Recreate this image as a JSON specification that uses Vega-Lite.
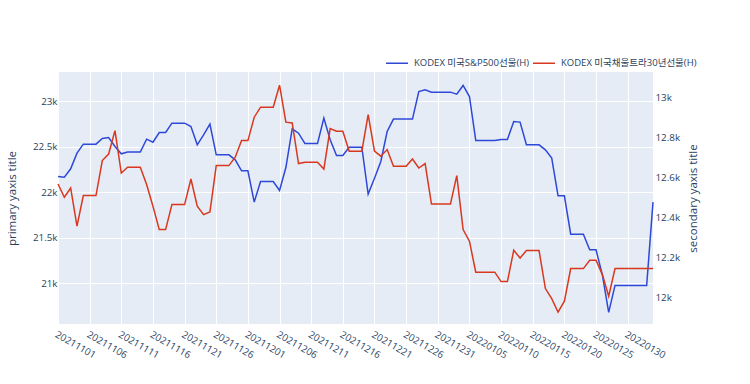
{
  "$schema": "https://vega.github.io/schema/vega-lite/v6.json",
  "width": 595,
  "height": 252,
  "autosize": {"type": "none"},
  "padding": {"left": 58, "top": 72, "right": 97, "bottom": 60},
  "background": "white",
  "config": {
    "font": "Open Sans, Noto Sans CJK KR",
    "view": {"fill": "#E5ECF6", "stroke": null},
    "axis": {
      "domain": false,
      "ticks": false,
      "gridColor": "#FFFFFF",
      "gridWidth": 1,
      "labelColor": "#2a3f5f",
      "labelFontSize": 9.8,
      "labelFont": "Open Sans, Noto Sans CJK KR",
      "titleColor": "#2a3f5f",
      "titleFont": "Open Sans, Noto Sans CJK KR"
    }
  },
  "data": {
    "values": [
      {"date": "2021-11-01", "sp": 22174, "ust": 12568},
      {"date": "2021-11-02", "sp": 22166, "ust": 12502},
      {"date": "2021-11-03", "sp": 22258, "ust": 12548},
      {"date": "2021-11-04", "sp": 22430, "ust": 12357},
      {"date": "2021-11-05", "sp": 22528, "ust": 12510},
      {"date": "2021-11-06", "sp": 22528, "ust": 12510},
      {"date": "2021-11-07", "sp": 22528, "ust": 12510},
      {"date": "2021-11-08", "sp": 22590, "ust": 12685},
      {"date": "2021-11-09", "sp": 22601, "ust": 12718},
      {"date": "2021-11-10", "sp": 22503, "ust": 12835},
      {"date": "2021-11-11", "sp": 22422, "ust": 12623},
      {"date": "2021-11-12", "sp": 22441, "ust": 12652},
      {"date": "2021-11-13", "sp": 22441, "ust": 12652},
      {"date": "2021-11-14", "sp": 22441, "ust": 12652},
      {"date": "2021-11-15", "sp": 22583, "ust": 12565},
      {"date": "2021-11-16", "sp": 22550, "ust": 12457},
      {"date": "2021-11-17", "sp": 22656, "ust": 12340},
      {"date": "2021-11-18", "sp": 22656, "ust": 12340},
      {"date": "2021-11-19", "sp": 22759, "ust": 12465},
      {"date": "2021-11-20", "sp": 22759, "ust": 12465},
      {"date": "2021-11-21", "sp": 22759, "ust": 12465},
      {"date": "2021-11-22", "sp": 22722, "ust": 12593},
      {"date": "2021-11-23", "sp": 22521, "ust": 12457},
      {"date": "2021-11-24", "sp": 22631, "ust": 12415},
      {"date": "2021-11-25", "sp": 22748, "ust": 12428},
      {"date": "2021-11-26", "sp": 22411, "ust": 12660},
      {"date": "2021-11-27", "sp": 22411, "ust": 12660},
      {"date": "2021-11-28", "sp": 22411, "ust": 12660},
      {"date": "2021-11-29", "sp": 22356, "ust": 12702},
      {"date": "2021-11-30", "sp": 22236, "ust": 12785},
      {"date": "2021-12-01", "sp": 22236, "ust": 12785},
      {"date": "2021-12-02", "sp": 21892, "ust": 12902},
      {"date": "2021-12-03", "sp": 22119, "ust": 12952},
      {"date": "2021-12-04", "sp": 22119, "ust": 12952},
      {"date": "2021-12-05", "sp": 22119, "ust": 12952},
      {"date": "2021-12-06", "sp": 22020, "ust": 13062},
      {"date": "2021-12-07", "sp": 22272, "ust": 12877},
      {"date": "2021-12-08", "sp": 22697, "ust": 12873},
      {"date": "2021-12-09", "sp": 22649, "ust": 12670},
      {"date": "2021-12-10", "sp": 22536, "ust": 12677},
      {"date": "2021-12-11", "sp": 22536, "ust": 12677},
      {"date": "2021-12-12", "sp": 22536, "ust": 12677},
      {"date": "2021-12-13", "sp": 22814, "ust": 12643},
      {"date": "2021-12-14", "sp": 22576, "ust": 12845},
      {"date": "2021-12-15", "sp": 22404, "ust": 12832},
      {"date": "2021-12-16", "sp": 22404, "ust": 12832},
      {"date": "2021-12-17", "sp": 22495, "ust": 12732},
      {"date": "2021-12-18", "sp": 22495, "ust": 12732},
      {"date": "2021-12-19", "sp": 22495, "ust": 12732},
      {"date": "2021-12-20", "sp": 21980, "ust": 12915},
      {"date": "2021-12-21", "sp": 22155, "ust": 12732},
      {"date": "2021-12-22", "sp": 22338, "ust": 12707},
      {"date": "2021-12-23", "sp": 22667, "ust": 12740},
      {"date": "2021-12-24", "sp": 22803, "ust": 12657},
      {"date": "2021-12-25", "sp": 22803, "ust": 12657},
      {"date": "2021-12-26", "sp": 22803, "ust": 12657},
      {"date": "2021-12-27", "sp": 22803, "ust": 12693},
      {"date": "2021-12-28", "sp": 23106, "ust": 12648},
      {"date": "2021-12-29", "sp": 23124, "ust": 12670},
      {"date": "2021-12-30", "sp": 23099, "ust": 12468},
      {"date": "2021-12-31", "sp": 23099, "ust": 12468},
      {"date": "2022-01-01", "sp": 23099, "ust": 12468},
      {"date": "2022-01-02", "sp": 23099, "ust": 12468},
      {"date": "2022-01-03", "sp": 23077, "ust": 12610},
      {"date": "2022-01-04", "sp": 23172, "ust": 12340},
      {"date": "2022-01-05", "sp": 23051, "ust": 12282},
      {"date": "2022-01-06", "sp": 22569, "ust": 12127},
      {"date": "2022-01-07", "sp": 22569, "ust": 12127},
      {"date": "2022-01-08", "sp": 22569, "ust": 12127},
      {"date": "2022-01-09", "sp": 22569, "ust": 12127},
      {"date": "2022-01-10", "sp": 22580, "ust": 12080},
      {"date": "2022-01-11", "sp": 22580, "ust": 12080},
      {"date": "2022-01-12", "sp": 22777, "ust": 12237},
      {"date": "2022-01-13", "sp": 22770, "ust": 12198},
      {"date": "2022-01-14", "sp": 22521, "ust": 12235},
      {"date": "2022-01-15", "sp": 22521, "ust": 12235},
      {"date": "2022-01-16", "sp": 22521, "ust": 12235},
      {"date": "2022-01-17", "sp": 22466, "ust": 12045},
      {"date": "2022-01-18", "sp": 22375, "ust": 11995},
      {"date": "2022-01-19", "sp": 21962, "ust": 11927},
      {"date": "2022-01-20", "sp": 21962, "ust": 11982},
      {"date": "2022-01-21", "sp": 21541, "ust": 12145},
      {"date": "2022-01-22", "sp": 21541, "ust": 12145},
      {"date": "2022-01-23", "sp": 21541, "ust": 12145},
      {"date": "2022-01-24", "sp": 21369, "ust": 12187},
      {"date": "2022-01-25", "sp": 21369, "ust": 12187},
      {"date": "2022-01-26", "sp": 21095, "ust": 12115},
      {"date": "2022-01-27", "sp": 20682, "ust": 12007},
      {"date": "2022-01-28", "sp": 20978, "ust": 12145},
      {"date": "2022-01-29", "sp": 20978, "ust": 12145},
      {"date": "2022-01-30", "sp": 20978, "ust": 12145},
      {"date": "2022-01-31", "sp": 20978, "ust": 12145},
      {"date": "2022-02-01", "sp": 20978, "ust": 12145},
      {"date": "2022-02-02", "sp": 20978, "ust": 12145},
      {"date": "2022-02-03", "sp": 21892, "ust": 12145}
    ]
  },
  "encoding": {
    "x": {
      "field": "date",
      "type": "temporal",
      "scale": {
        "type": "utc",
        "domain": [
          {"year": 2021, "month": 11, "date": 1, "utc": true},
          {"year": 2022, "month": 2, "date": 3, "utc": true}
        ]
      },
      "axis": {
        "title": null,
        "format": "%Y%m%d",
        "labelAngle": 30,
        "labelAlign": "left",
        "labelBaseline": "top",
        "labelPadding": 5,
        "labelOverlap": false,
        "labelBound": false,
        "labelFlush": false,
        "values": [
          {"year": 2021, "month": 11, "date": 1, "utc": true},
          {"year": 2021, "month": 11, "date": 6, "utc": true},
          {"year": 2021, "month": 11, "date": 11, "utc": true},
          {"year": 2021, "month": 11, "date": 16, "utc": true},
          {"year": 2021, "month": 11, "date": 21, "utc": true},
          {"year": 2021, "month": 11, "date": 26, "utc": true},
          {"year": 2021, "month": 12, "date": 1, "utc": true},
          {"year": 2021, "month": 12, "date": 6, "utc": true},
          {"year": 2021, "month": 12, "date": 11, "utc": true},
          {"year": 2021, "month": 12, "date": 16, "utc": true},
          {"year": 2021, "month": 12, "date": 21, "utc": true},
          {"year": 2021, "month": 12, "date": 26, "utc": true},
          {"year": 2021, "month": 12, "date": 31, "utc": true},
          {"year": 2022, "month": 1, "date": 5, "utc": true},
          {"year": 2022, "month": 1, "date": 10, "utc": true},
          {"year": 2022, "month": 1, "date": 15, "utc": true},
          {"year": 2022, "month": 1, "date": 20, "utc": true},
          {"year": 2022, "month": 1, "date": 25, "utc": true},
          {"year": 2022, "month": 1, "date": 30, "utc": true}
        ]
      }
    }
  },
  "layer": [
    {
      "mark": {"type": "line", "strokeWidth": 1.5, "interpolate": "linear"},
      "encoding": {
        "y": {
          "field": "sp",
          "type": "quantitative",
          "scale": {"domain": [20555, 23320], "zero": false, "nice": false},
          "axis": {
            "orient": "left",
            "values": [21000, 21500, 22000, 22500, 23000],
            "format": "~s",
            "labelPadding": 1,
            "title": "primary yaxis title",
            "titleFontSize": 11.5,
            "titleFontWeight": "normal",
            "titleAngle": -90,
            "titleX": -46,
            "titleY": 126,
            "titleAlign": "center",
            "titleBaseline": "middle"
          }
        },
        "color": {
          "datum": "KODEX 미국S&P500선물(H)",
          "type": "nominal",
          "scale": {
            "domain": ["KODEX 미국S&P500선물(H)", "KODEX 미국채울트라30년선물(H)"],
            "range": ["#2E48D8", "#D9381E"]
          },
          "legend": {
            "title": null,
            "orient": "none",
            "direction": "horizontal",
            "legendX": 327,
            "legendY": -21,
            "symbolType": "stroke",
            "symbolSize": 484,
            "symbolStrokeWidth": 1.5,
            "labelFontSize": 9.5,
            "labelLimit": 300,
            "labelColor": "#2a3f5f",
            "labelFont": "Open Sans, Noto Sans CJK KR",
            "labelOffset": 5,
            "columnPadding": 0
          }
        }
      }
    },
    {
      "mark": {"type": "line", "strokeWidth": 1.5, "interpolate": "linear"},
      "encoding": {
        "y": {
          "field": "ust",
          "type": "quantitative",
          "scale": {"domain": [11868, 13128], "zero": false, "nice": false},
          "axis": {
            "orient": "right",
            "values": [12000, 12200, 12400, 12600, 12800, 13000],
            "format": "~s",
            "labelPadding": 2,
            "title": "secondary yaxis title",
            "titleFontSize": 11.5,
            "titleFontWeight": "normal",
            "titleAngle": -90,
            "titleX": 40,
            "titleY": 126,
            "titleAlign": "center",
            "titleBaseline": "middle"
          }
        },
        "color": {"datum": "KODEX 미국채울트라30년선물(H)", "type": "nominal"}
      }
    }
  ],
  "resolve": {"scale": {"y": "independent"}}
}
